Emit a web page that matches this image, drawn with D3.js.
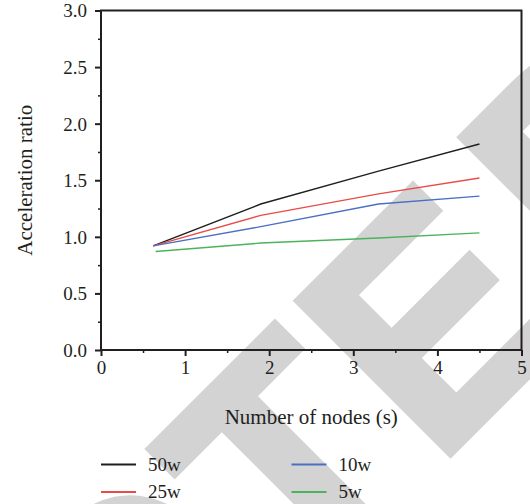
<!DOCTYPE html>
<html>
<head>
<meta charset="utf-8">
<script src="https://cdn.jsdelivr.net/npm/d3@7/dist/d3.min.js"></script>
<style>
  body { margin: 0; background: #fff; }
  svg { display: block; }
  text { font-family: "Liberation Serif", "Times New Roman", serif; fill: #231f20; }
</style>
</head>
<body>
<svg id="chart" width="530" height="504"></svg>
<script>
// data
const nodes = [0.62, 1.9, 3.3, 4.5];
const nodes5w = [0.65, 1.9, 3.3, 4.5];
const ratio50w = [0.92, 1.29, 1.58, 1.82];
const ratio25w = [0.92, 1.19, 1.38, 1.52];
const ratio10w = [0.92, 1.09, 1.29, 1.36];
const ratio5w = [0.87, 0.945, 0.99, 1.035];
const xTicks = [0, 1, 2, 3, 4, 5];
const yTicks = [0, 0.5, 1, 1.5, 2, 2.5, 3];

const series = [
  {name: "50w", x: nodes, y: ratio50w, colour: "#1f1f1f"},
  {name: "25w", x: nodes, y: ratio25w, colour: "#e94c46"},
  {name: "10w", x: nodes, y: ratio10w, colour: "#4a70c4"},
  {name: "5w", x: nodes5w, y: ratio5w, colour: "#4cb35c"}
];

const svg = d3.select("#chart");
const margins = {top: 10.5, left: 101, right: 8.5, bottom: 154};
const width = 530, height = 504;

// watermark behind everything, letters placed one by one along the diagonal
const wmSize = 313;
const wmAdvance = {R: 0.722, E: 0.667, T: 0.611, A: 0.722, C: 0.722, D: 0.722};
const wmWord = "RETRACTED";
const wmX = new Array(wmWord.length);
wmX[6] = -224; // T
wmX[7] = -23;  // E
wmX[8] = 218;  // D
for (let i = 5; i >= 0; i--) {
  wmX[i] = wmX[i + 1] - wmAdvance[wmWord[i]] * wmSize - 15;
}
svg.append("text")
  .attr("transform", "rotate(-45) scale(0.96,1)")
  .attr("x", wmX.map(v => v.toFixed(1)).join(" "))
  .attr("y", 639)
  .style("font-family", "'Liberation Sans', Arial, sans-serif")
  .style("font-weight", "bold")
  .style("font-size", wmSize + "px")
  .style("fill", "#d3d3d3")
  .style("stroke", "#d3d3d3")
  .style("stroke-width", 8)
  .text(wmWord);

const x = d3.scaleLinear().domain([0, 5]).range([margins.left, width - margins.right]);
const y = d3.scaleLinear().domain([0, 3]).range([height - margins.bottom, margins.top]);

// minor ticks
svg.append("g")
  .attr("transform", "translate(0," + y(0) + ")")
  .call(d3.axisBottom(x).tickValues([0.5, 1.5, 2.5, 3.5, 4.5]).tickSize(3).tickSizeOuter(0).tickFormat(""))
  .call(g => g.select(".domain").remove())
  .call(g => g.selectAll("line").attr("stroke", "#231f20").attr("stroke-width", 1.5));
svg.append("g")
  .attr("transform", "translate(" + x(0) + ",0)")
  .call(d3.axisLeft(y).tickValues([0.25, 0.75, 1.25, 1.75, 2.25, 2.75]).tickSize(3).tickSizeOuter(0).tickFormat(""))
  .call(g => g.select(".domain").remove())
  .call(g => g.selectAll("line").attr("stroke", "#231f20").attr("stroke-width", 1.5));

// major axes
const xAxis = svg.append("g")
  .attr("transform", "translate(0," + y(0) + ")")
  .call(d3.axisBottom(x).tickValues(xTicks).tickSize(6).tickSizeOuter(0).tickFormat(d3.format("d")));
const yAxis = svg.append("g")
  .attr("transform", "translate(" + x(0) + ",0)")
  .call(d3.axisLeft(y).tickValues(yTicks).tickSize(6).tickSizeOuter(0).tickFormat(d3.format(".1f")));

[xAxis, yAxis].forEach(a => {
  a.select(".domain").remove();
  a.selectAll("line").attr("stroke", "#231f20").attr("stroke-width", 2);
  a.selectAll("text")
    .style("font-family", "'Liberation Serif', serif")
    .style("font-size", "19px")
    .attr("fill", "#231f20");
});
xAxis.selectAll("text").attr("y", 11).attr("dy", "0.71em");
yAxis.selectAll("text").attr("x", -14).attr("dy", "0.34em");

// frame
svg.append("rect")
  .attr("x", x(0))
  .attr("y", y(3))
  .attr("width", x(5) - x(0))
  .attr("height", y(0) - y(3))
  .attr("fill", "none")
  .attr("stroke", "#231f20")
  .attr("stroke-width", 2);

// lines
const line = d3.line()
  .x(d => x(d[0]))
  .y(d => y(d[1]));

svg.selectAll(".series")
  .data(series)
  .enter()
  .append("path")
  .attr("class", "series")
  .attr("fill", "none")
  .attr("stroke", d => d.colour)
  .attr("stroke-width", 1.4)
  .attr("d", d => line(d.x.map((v, i) => [v, d.y[i]])));

// axis titles
svg.append("text")
  .attr("x", (x(0) + x(5)) / 2)
  .attr("y", 424)
  .attr("text-anchor", "middle")
  .style("font-size", "21px")
  .text("Number of nodes (s)");

svg.append("text")
  .attr("transform", "translate(32," + (y(0) + y(3)) / 2 + ") rotate(-90)")
  .attr("text-anchor", "middle")
  .style("font-size", "21px")
  .text("Acceleration ratio");

// legend
const legendPos = [[101, 464.5], [291.5, 464.5], [101, 492], [291.5, 492]];
const legendOrder = [0, 2, 1, 3];
legendOrder.forEach((si, k) => {
  const s = series[si];
  const [lx, ly] = legendPos[k];
  svg.append("line")
    .attr("x1", lx).attr("x2", lx + 35)
    .attr("y1", ly).attr("y2", ly)
    .attr("stroke", s.colour)
    .attr("stroke-width", 2);
  svg.append("text")
    .attr("x", lx + 47)
    .attr("y", ly)
    .attr("dy", "0.33em")
    .style("font-size", "19px")
    .text(s.name);
});
</script>
</body>
</html>
